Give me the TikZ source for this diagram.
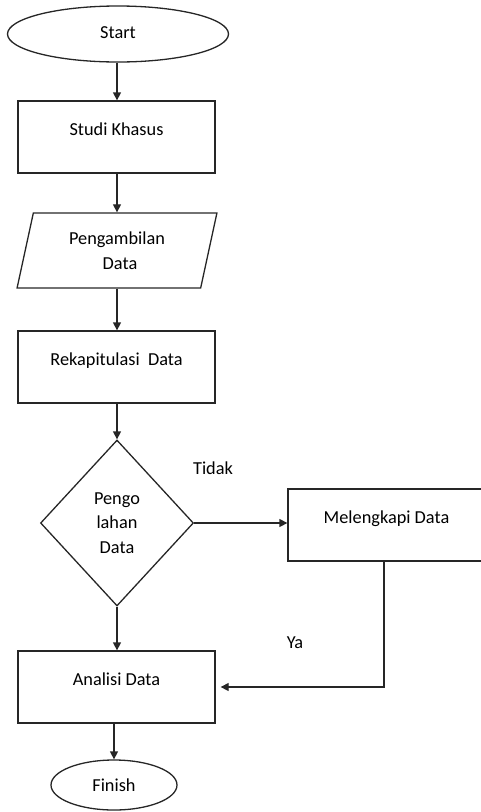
\documentclass[tikz,border=0pt]{standalone}
\usepackage{fontspec}
\setmainfont{Carlito}
\usetikzlibrary{shapes.geometric,arrows.meta}
\begin{document}
\begin{tikzpicture}[x=1pt,y=-1pt,
  every node/.style={font=\fontsize{18.3}{24.5}\selectfont, text=black},
  line/.style={draw=black!85, line width=1.3pt},
  arr/.style={line, -{Triangle[length=8pt,width=8pt]}},
  term/.style={ellipse, line, inner sep=0pt},
  proc/.style={rectangle, line, minimum width=197pt, minimum height=72pt, inner sep=0pt, text height=11pt, text depth=15pt},
  io/.style={trapezium, trapezium left angle=76, trapezium right angle=104, trapezium stretches=true, line, minimum width=200pt, minimum height=75pt, inner sep=0pt, align=center},
  decision/.style={diamond, line, minimum width=153pt, minimum height=166pt, inner sep=0pt, align=center},
  lbl/.style={inner sep=0pt}
]
\path[use as bounding box, clip] (0,0) rectangle (481,812);
\coordinate (ax) at (117,0);

\node[term, minimum width=221pt, minimum height=56pt] (start) at (118,34) {\raisebox{3pt}{Start}};
\node[proc] (studi) at (116.5,137) {Studi Khasus};
\node[io] (ambil) at (117,250.5) {Pengambilan\\\hspace*{6pt}Data};
\node[proc] (rekap) at (116.5,367) {Rekapitulasi\ \ Data};
\node[decision] (dia) at (117,523) {Pengo\\lahan\\Data};
\node[proc] (mel) at (386.5,525) {Melengkapi Data};
\node[proc] (analisi) at (116.5,687) {Analisi Data};
\node[term, minimum width=126pt, minimum height=50pt] (finish) at (114,785) {Finish};

\node[lbl] (tidak) at (213,468) {Tidak};
\node[lbl] (ya) at (295,643) {Ya};

\draw[arr] (start.south -| ax) -- (studi.north -| ax);
\draw[arr] (studi.south -| ax) -- (ambil.north -| ax);
\draw[arr] (ambil.south -| ax) -- (rekap.north -| ax);
\draw[arr] (rekap.south -| ax) -- (dia.north);
\draw[arr] (dia.east) -- (dia.east -| mel.west);
\draw[arr] (dia.south) -- (dia.south |- analisi.north);
\draw[arr] ([xshift=-2.5pt]mel.south) |- ([xshift=5pt]analisi.east);
\draw[arr] (finish.north |- analisi.south) -- (finish.north);
\end{tikzpicture}
\end{document}
